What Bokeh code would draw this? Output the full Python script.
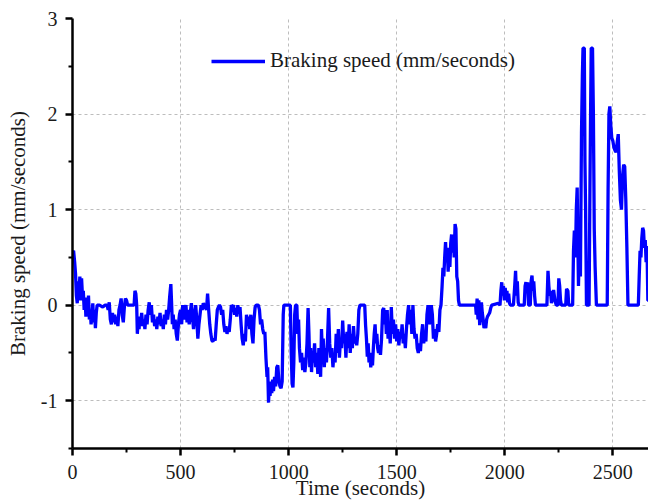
from bokeh.plotting import figure
from bokeh.models import Range1d, FixedTicker, Legend, LegendItem
from bokeh.embed import file_html
from bokeh.resources import INLINE

# ---------------- data ----------------
seg_a_t = [0, 5, 10, 14, 18, 22, 26, 30, 34, 38,
           42, 46, 50, 54, 58, 62, 66, 70, 74, 78,
           82, 86, 90, 94, 98, 102, 106, 110, 114, 125,
           140, 150, 160, 165, 170, 175, 180, 185, 190, 195,
           200, 205, 210, 215, 220, 225, 230, 235, 240, 245,
           250, 255, 270, 285, 289, 293, 297]
seg_a_v = [0.55, 0.57, 0.45, 0.33, 0.1, 0.02, 0.25, 0.12, 0.3, 0.05,
           0.28, 0.1, 0.15, -0.05, 0.08, -0.12, 0.05, -0.08, 0.1, -0.15,
           -0.05, -0.2, -0.1, 0.02, -0.18, -0.05, -0.24, -0.08, 0.0, 0.0,
           -0.02, 0.0, 0.0, -0.05, 0.03, -0.15, -0.2, -0.08, -0.18, -0.1,
           -0.2, -0.12, -0.22, -0.05, 0.0, 0.07, -0.1, -0.18, -0.02, 0.07,
           0.05, 0.0, 0.0, 0.0, 0.15, 0.12, 0.0]

seg_b_t = [300, 304, 308, 312, 316, 320, 325, 330, 335, 340,
           345, 350, 355, 360, 365, 370, 375, 380, 385, 390,
           395, 400, 405, 410, 415, 420, 425, 430, 435, 440,
           445, 450, 455, 458, 462, 466, 470, 475, 480, 485,
           490, 495, 500, 505, 510, 515, 520, 525, 530, 535,
           540, 545, 550, 555, 560, 565, 570, 575, 580, 585,
           590, 595, 600, 605, 610, 620, 625, 630, 635, 640,
           645, 650, 655, 660, 665, 670, 675]
seg_b_v = [-0.3, -0.15, -0.25, -0.12, -0.2, -0.08, -0.22, -0.15, -0.25, -0.1,
           -0.2, -0.05, 0.03, -0.1, 0.0, -0.18, -0.1, -0.22, -0.15, -0.25,
           -0.12, -0.2, -0.08, -0.22, -0.15, -0.25, -0.1, -0.2, -0.05, -0.15,
           -0.05, 0.1, 0.22, 0.05, -0.2, -0.1, -0.25, -0.15, -0.3, -0.37,
           -0.2, -0.1, -0.05, -0.2, 0.0, -0.15, -0.05, 0.0, -0.18, -0.05,
           -0.2, -0.08, 0.02, -0.12, -0.25, -0.1, 0.0, -0.15, -0.35, -0.2,
           -0.1, 0.0, -0.05, 0.02, 0.0, -0.05, 0.12, -0.05, -0.2, -0.3,
           -0.37, -0.38, -0.35, -0.37, -0.2, -0.05, -0.02]

seg_c_t = [680, 685, 690, 695, 700, 705, 710, 715, 720, 725,
           730, 735, 740, 745, 750, 755, 760, 765, 770, 775,
           780, 785, 790, 795, 800, 805, 810, 815, 820, 825,
           830, 835, 840, 845, 850, 860, 865, 870, 875, 880,
           885, 890, 895, 900, 903, 907, 910, 914, 918, 922,
           926, 930, 935, 940, 945, 950, 955, 960, 965, 970,
           975, 978, 990, 1008]
seg_c_v = [0.0, -0.02, -0.1, -0.05, -0.2, -0.28, -0.22, -0.3, -0.25, -0.28,
           -0.15, 0.0, -0.02, 0.0, -0.1, -0.03, -0.12, 0.0, -0.08, -0.02,
           -0.2, -0.35, -0.42, -0.3, -0.38, -0.1, -0.2, -0.12, -0.25, -0.1,
           -0.3, -0.4, -0.15, -0.02, 0.0, 0.0, -0.05, -0.2, -0.15, -0.25,
           -0.3, -0.28, -0.55, -0.75, -0.65, -1.02, -0.85, -0.95, -0.8, -0.92,
           -0.78, -0.9, -0.75, -0.85, -0.65, -0.63, -0.8, -0.85, -0.87, -0.8,
           -0.1, 0.0, 0.0, 0.0]

seg_d_t = [1012, 1016, 1020, 1024, 1028, 1032, 1038, 1042, 1046, 1050,
           1055, 1060, 1065, 1070, 1075, 1080, 1085, 1090, 1094, 1098,
           1102, 1106, 1110, 1115, 1120, 1125, 1130, 1135, 1140, 1145,
           1148, 1152, 1156, 1160, 1165, 1170, 1175, 1180, 1185, 1190,
           1195, 1200, 1205, 1210, 1215, 1220, 1225, 1230, 1235, 1240,
           1245, 1250, 1255, 1260, 1265, 1270, 1275, 1280, 1285, 1290,
           1295, 1300, 1305, 1310, 1315, 1320, 1325, 1330, 1345, 1352]
seg_d_v = [-0.5, -0.82, -0.86, -0.6, -0.1, 0.0, 0.0, -0.3, -0.15, -0.45,
           -0.6, -0.5, -0.68, -0.55, -0.7, -0.6, -0.4, -0.03, -0.3, -0.65,
           -0.45, -0.7, -0.5, -0.6, -0.4, -0.65, -0.5, -0.72, -0.45, -0.6,
           -0.75, -0.25, -0.5, -0.35, -0.65, -0.45, -0.6, -0.35, -0.03, -0.4,
           -0.55, -0.45, -0.65, -0.5, -0.6, -0.3, -0.5, -0.25, -0.55, -0.35,
           -0.45, -0.16, -0.4, -0.3, -0.55, -0.28, -0.45, -0.2, -0.5, -0.3,
           -0.45, -0.22, -0.4, -0.35, -0.42, -0.3, -0.05, 0.0, 0.0, 0.0]

seg_e_t = [1356, 1360, 1364, 1368, 1372, 1376, 1380, 1384, 1388, 1392,
           1396, 1400, 1404, 1408, 1412, 1416, 1420, 1425, 1430, 1435,
           1440, 1444, 1448, 1452, 1456, 1460, 1465, 1470, 1475, 1480,
           1485, 1490, 1495, 1500, 1505, 1510, 1515, 1520, 1525, 1530,
           1535, 1540, 1545, 1550, 1555, 1560, 1565, 1570, 1575, 1580,
           1585, 1590, 1595, 1600, 1605, 1610, 1615, 1620, 1625, 1630,
           1635, 1640, 1645, 1650, 1655, 1660, 1665, 1670, 1675, 1680,
           1685, 1690, 1695, 1700, 1705]
seg_e_v = [-0.21, -0.35, -0.54, -0.4, -0.6, -0.5, -0.65, -0.55, -0.63, -0.45,
           -0.3, -0.2, -0.4, -0.3, -0.45, -0.5, -0.42, -0.52, -0.35, -0.05,
           -0.03, -0.2, -0.1, -0.3, -0.05, -0.35, -0.2, -0.4, -0.02, -0.3,
           -0.15, -0.35, -0.2, -0.38, -0.25, -0.42, -0.28, -0.35, -0.2, -0.4,
           -0.3, -0.45, -0.25, -0.1, 0.0, -0.2, -0.05, -0.3, 0.0, -0.25,
           -0.35, -0.3, -0.45, -0.5, -0.4, -0.48, -0.3, -0.2, -0.4, -0.3,
           -0.38, -0.1, 0.0, -0.2, -0.15, 0.0, -0.1, -0.35, -0.25, -0.38,
           -0.3, -0.2, -0.28, -0.05, 0.0]

seg_f_t = [1710, 1714, 1718, 1722, 1726, 1730, 1734, 1738, 1742, 1746,
           1750, 1754, 1758, 1762, 1766, 1770, 1774, 1778, 1782, 1786,
           1790, 1865, 1868, 1872, 1876, 1880, 1884, 1888, 1892, 1896,
           1900, 1904, 1908, 1912, 1916, 1920, 1925, 1930, 1935, 1940,
           1970, 1978, 1982, 1986, 1990, 1994, 1998, 2002, 2006, 2010,
           2014, 2018, 2022, 2026, 2040]
seg_f_v = [0.2, 0.39, 0.3, 0.5, 0.66, 0.45, 0.6, 0.35, 0.55, 0.4,
           0.65, 0.74, 0.55, 0.7, 0.5, 0.85, 0.8, 0.3, 0.25, 0.05,
           0.0, 0.0, -0.1, 0.07, -0.15, 0.05, -0.21, -0.1, 0.03, -0.08,
           -0.15, -0.24, -0.2, -0.24, -0.15, -0.12, -0.1, -0.08, -0.03, 0.0,
           0.02, 0.0, 0.15, 0.24, 0.1, 0.2, 0.05, 0.18, 0.08, 0.15,
           0.03, 0.12, 0.02, 0.0, 0.0]

seg_g_t = [2046, 2050, 2054, 2058, 2062, 2066, 2090, 2094, 2098, 2102,
           2106, 2110, 2118, 2122, 2126, 2130, 2134, 2138, 2142, 2195,
           2200, 2204, 2208, 2212, 2216, 2222, 2226, 2232, 2238, 2246,
           2250, 2254, 2258, 2262, 2282, 2286, 2292, 2296, 2314]
seg_g_v = [0.2, 0.36, 0.1, 0.25, 0.03, 0.0, 0.0, 0.2, 0.24, 0.15,
           0.24, 0.0, 0.0, 0.25, 0.31, 0.15, 0.25, 0.1, 0.0, 0.0,
           0.36, 0.2, 0.1, 0.15, 0.02, 0.1, 0.16, 0.05, 0.0, 0.0,
           0.28, 0.2, 0.05, 0.0, 0.0, 0.17, 0.15, 0.0, 0.0]

seg_h_t = [2318, 2322, 2327, 2331, 2335, 2338, 2341, 2345, 2350, 2355,
           2359, 2362, 2368, 2371, 2374, 2378, 2390, 2394, 2397, 2400,
           2406, 2410, 2414, 2418, 2424, 2474, 2478, 2482, 2486, 2490,
           2495, 2500, 2505, 2510, 2515, 2520, 2525, 2530, 2535, 2540,
           2545, 2550, 2555, 2560, 2565, 2570, 2574, 2618, 2622, 2626,
           2630, 2634, 2638, 2642, 2646, 2650, 2654, 2658, 2662, 2665]
seg_h_v = [0.57, 0.78, 0.5, 1.0, 1.23, 0.7, 0.2, 0.6, 0.3, 1.8,
           2.4, 2.69, 2.69, 1.5, 1.0, 0.0, 0.0, 1.2, 2.0, 2.69,
           2.69, 2.0, 0.8, 0.4, 0.0, 0.0, 1.2, 2.0, 2.08, 1.9,
           1.75, 1.72, 1.65, 1.62, 1.6, 1.7, 1.79, 1.4, 1.1, 1.0,
           1.35, 1.47, 1.45, 1.1, 0.6, 0.0, 0.0, 0.0, 0.3, 0.57,
           0.5, 0.7, 0.81, 0.78, 0.6, 0.68, 0.45, 0.62, 0.05, 0.05]

time_s = seg_a_t + seg_b_t + seg_c_t + seg_d_t + seg_e_t + seg_f_t + seg_g_t + seg_h_t
speed = seg_a_v + seg_b_v + seg_c_v + seg_d_v + seg_e_v + seg_f_v + seg_g_v + seg_h_v
assert len(time_s) == len(speed)

x_ticks = [0, 500, 1000, 1500, 2000, 2500]
x_tick_labels = ["0", "500", "1000", "1500", "2000", "2500"]
x_minor_ticks = [250, 750, 1250, 1750, 2250]
y_ticks = [-1, 0, 1, 2, 3]
y_tick_labels = ["-1", "0", "1", "2", "3"]
y_minor_ticks = [-1.5, -0.5, 0.5, 1.5, 2.5]

series_label = "Braking speed (mm/seconds)"
x_title = "Time (seconds)"
y_title = "Braking speed (mm/seconds)"

# ---------------- figure ----------------
FONT = "Liberation Serif"
p = figure(width=648, height=502, output_backend="svg", toolbar_location=None,
           x_range=Range1d(0, 2665), y_range=Range1d(-1.5, 3),
           min_border_left=72, min_border_right=0, min_border_top=18,
           min_border_bottom=52)
p.outline_line_color = None
p.background_fill_color = "white"
p.border_fill_color = "white"

r = p.line(time_s, speed, line_color="#0000FF", line_width=3.3)

p.xaxis.ticker = FixedTicker(ticks=x_ticks, minor_ticks=x_minor_ticks)
p.yaxis.ticker = FixedTicker(ticks=y_ticks, minor_ticks=y_minor_ticks)
p.xgrid.ticker = FixedTicker(ticks=x_ticks)
p.ygrid.ticker = FixedTicker(ticks=y_ticks)
p.xaxis.major_label_overrides = dict(zip(x_ticks, x_tick_labels))
p.yaxis.major_label_overrides = dict(zip(y_ticks, y_tick_labels))

for g in (p.xgrid, p.ygrid):
    g.grid_line_color = "#bdbdbd"
    g.grid_line_dash = "3 3"
    g.grid_line_width = 1

for ax in (p.xaxis, p.yaxis):
    ax.axis_line_width = 2.5
    ax.axis_line_color = "black"
    ax.major_tick_line_width = 2.5
    ax.minor_tick_line_width = 2
    ax.major_tick_in = 0
    ax.major_tick_out = 7
    ax.minor_tick_in = 0
    ax.minor_tick_out = 4
    ax.major_label_text_font = FONT
    ax.major_label_text_font_size = "20px"
    ax.major_label_text_color = "#1a1a1a"
    ax.axis_label_text_font = FONT
    ax.axis_label_text_font_size = "21px"
    ax.axis_label_text_font_style = "normal"
    ax.axis_label_text_color = "#1a1a1a"

p.xaxis.axis_label = x_title
p.yaxis.axis_label = y_title
p.xaxis.major_label_standoff = 9
p.xaxis.axis_label_standoff = -6
p.yaxis.major_label_standoff = 8
p.yaxis.axis_label_standoff = 8

legend = Legend(items=[LegendItem(label=series_label, renderers=[r])],
                location=(139, 375))
legend.border_line_color = None
legend.background_fill_alpha = 0
legend.label_text_font = FONT
legend.label_text_font_size = "21px"
legend.label_text_color = "#1a1a1a"
legend.glyph_width = 54
legend.label_standoff = 5
legend.padding = 0
legend.margin = 0
p.add_layout(legend)

open("out.html", "w").write(file_html(p, INLINE))
